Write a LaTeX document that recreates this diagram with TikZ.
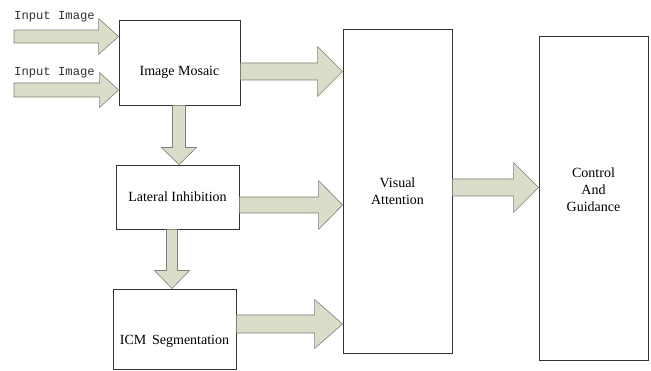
\documentclass[tikz,border=0pt]{standalone}
\usepackage{fontspec}
\setmainfont{Liberation Serif}
\newfontfamily\monof{Liberation Mono}
\usetikzlibrary{calc}
\definecolor{arrfill}{RGB}{216,222,202}
\definecolor{arrline}{RGB}{125,128,118}
\definecolor{boxline}{RGB}{50,50,50}
\tikzset{
  box/.style={draw=boxline,line width=0.9pt,fill=white,inner sep=0pt},
  barrow/.style={fill=arrfill,draw=arrline,line width=0.6pt,line join=miter},
  lbl/.style={font=\fontsize{14}{17}\selectfont,text=black,align=center,inner sep=0pt},
  inlbl/.style={font=\monof\fontsize{12.2}{14}\selectfont,text=black!80,inner sep=0pt,anchor=base west}
}
% horizontal block arrow: from, to, ymid (px from top), shaft half, head half, head length
\newcommand\harr[6]{\draw[barrow] let \p1=(#1), \p2=(#2) in
 (\x1,{(371-#3+#4)*1pt}) -- ({\x2-#6*1pt},{(371-#3+#4)*1pt}) -- ({\x2-#6*1pt},{(371-#3+#5)*1pt})
 -- (\x2,{(371-#3)*1pt}) -- ({\x2-#6*1pt},{(371-#3-#5)*1pt}) -- ({\x2-#6*1pt},{(371-#3-#4)*1pt})
 -- (\x1,{(371-#3-#4)*1pt}) -- cycle;}
% vertical (downward) block arrow: from, to, xmid, shaft half, head half, head length
\newcommand\varr[6]{\draw[barrow] let \p1=(#1), \p2=(#2) in
 ({(#3-#4)*1pt},\y1) -- ({(#3-#4)*1pt},{\y2+#6*1pt}) -- ({(#3-#5)*1pt},{\y2+#6*1pt})
 -- ({#3*1pt},\y2) -- ({(#3+#5)*1pt},{\y2+#6*1pt}) -- ({(#3+#4)*1pt},{\y2+#6*1pt})
 -- ({(#3+#4)*1pt},\y1) -- cycle;}
\begin{document}
\begin{tikzpicture}[x=1pt,y=1pt]
\useasboundingbox (0,0) rectangle (651,371);
\fill[white] (0,0) rectangle (651,371);
% boxes
\node[box,minimum width=121pt,minimum height=85pt] (mosaic) at (179.5,308.5) {};
\node[box,minimum width=123pt,minimum height=64pt] (lateral) at (177.5,174) {};
\node[box,minimum width=123pt,minimum height=80pt] (icm) at (174.5,42) {};
\node[box,minimum width=109pt,minimum height=324pt] (va) at (397.5,180) {};
\node[box,minimum width=109pt,minimum height=324pt] (cg) at (593.5,173) {};
% box texts
\node[lbl] (tmosaic) at ($(mosaic)+(0,-10)$) {Image Mosaic};
\node[lbl] (tlateral) at (lateral) {Lateral Inhibition};
\node[lbl] (ticm) at ($(icm)+(0,-12)$) {ICM\, Segmentation};
\node[lbl] (tva) at ($(va)+(0,0)$) {Visual\\Attention};
\node[lbl] (tcg) at ($(cg)+(0,8)$) {Control\\And\\Guidance};
% inputs
\coordinate (in1) at (14,334.5);
\coordinate (in2) at (14,281);
\node[inlbl] (lin1) at (14,351) {Input Image};
\node[inlbl] (lin2) at (14,295) {Input Image};
\harr{in1}{mosaic.west}{36.5}{6.5}{18}{20}
\harr{in2}{mosaic.west}{90}{7}{17.5}{19}
% to visual attention
\harr{mosaic.east}{va.west}{71.5}{8.5}{25}{25}
\harr{lateral.east}{va.west}{205}{8}{24.5}{24}
\harr{icm.east}{va.west}{324}{9}{24.5}{28}
\harr{va.east}{cg.west}{187.5}{8.5}{25}{25}
% downward
\varr{mosaic.south}{lateral.north}{179}{6.5}{17.5}{17}
\varr{lateral.south}{icm.north}{172}{5.5}{17.5}{18}
\end{tikzpicture}
\end{document}
